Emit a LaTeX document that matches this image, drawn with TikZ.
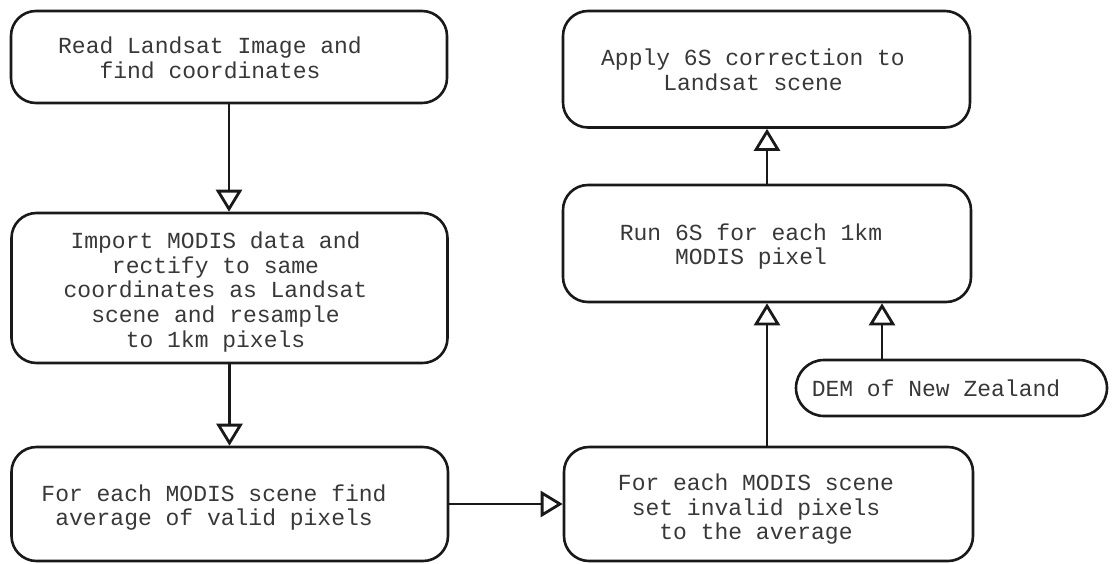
\documentclass[tikz,border=0pt]{standalone}
\usepackage{fontspec}
\setmonofont{Liberation Mono}
\usetikzlibrary{arrows.meta}

\begin{document}
\begin{tikzpicture}[x=1pt, y=-1pt,
  stepbox/.style={draw=black!90, line width=2.6pt, rounded corners=25pt,
    rectangle, inner sep=0pt, minimum width=#1},
  stepbox/.default=436pt,
  steptext/.style={inner sep=0pt, align=center, text=black!78,
    font=\ttfamily\fontsize{23}{23.3}\selectfont},
  flow/.style={draw=black!90, line width=2.8pt,
    -{Triangle[open, length=22pt, width=26pt]}}
]
\useasboundingbox (0,0) rectangle (1116,563);

% boxes (centre, width via style, height)
\node[stepbox=436pt, minimum height=92pt]   (read)   at (229, 57)    {};
\node[stepbox=436pt, minimum height=150pt]  (import) at (229.5, 288) {};
\node[stepbox=436.5pt, minimum height=114pt](avg)    at (229.75, 504) {};
\node[stepbox=409pt, minimum height=114pt]  (setinv) at (768.5, 504) {};
\node[stepbox=408pt, minimum height=117pt]  (run)    at (767, 243.5) {};
\node[stepbox=407pt, minimum height=116.5pt](apply)  at (766.5, 69.25) {};
\node[draw=black!90, line width=2.6pt, rounded corners=28pt, inner sep=0pt,
      minimum width=311pt, minimum height=56pt] (dem) at (951.5, 388) {};

% texts
\node[steptext] (read-t)   at (210, 61.3)
  {\strut Read Landsat Image and\\\strut find coordinates};
\node[steptext] (import-t) at (215.5, 293)
  {\strut Import MODIS data and\\\strut rectify to same\\\strut coordinates as Landsat\\\strut scene and resample\\\strut to 1km pixels};
\node[steptext] (avg-t)    at (214, 508.7)
  {\strut For each MODIS scene find\\\strut average of valid pixels};
\node[steptext] (setinv-t) at (756, 510.4)
  {\strut For each MODIS scene\\\strut set invalid pixels\\\strut to the average};
\node[steptext] (run-t)    at (751, 247.7)
  {\strut Run 6S for each 1km\\\strut MODIS pixel};
\node[steptext] (apply-t)  at (753, 73)
  {\strut Apply 6S correction to\\\strut Landsat scene};
\node[steptext] (dem-t)    at (936, 392)
  {\strut DEM of New Zealand};

% connectors
\draw[flow] (read.south) -- (read.south |- import.north);
\draw[flow] (import.south) -- (import.south |- avg.north);
\draw[flow] (avg.east) -- (avg.east -| setinv.west);
\draw[flow] (run.south |- setinv.north) -- (run.south);
\draw[flow] ([xshift=-69.5pt]dem.north) -- ([xshift=-69.5pt]dem.north |- run.south);
\draw[flow] (run.north) -- (run.north |- apply.south);
\end{tikzpicture}
\end{document}
